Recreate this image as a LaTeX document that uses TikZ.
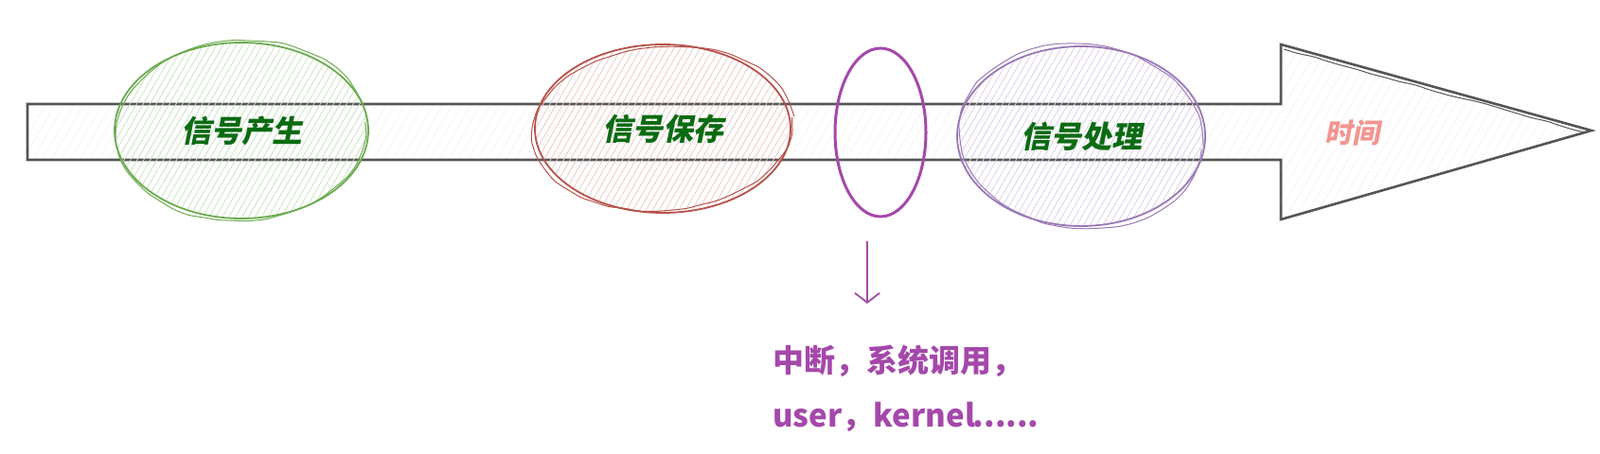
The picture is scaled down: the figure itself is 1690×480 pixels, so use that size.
\documentclass[tikz,border=0pt]{standalone}
\usepackage{fontspec}
\newfontfamily\cjk{Noto Sans CJK SC}
\newfontfamily\cjkslant{Noto Sans CJK SC}[FakeSlant=0.2]
\usetikzlibrary{shapes.geometric}
\usetikzlibrary{patterns.meta}
\usetikzlibrary{arrows.meta}
\usetikzlibrary{decorations.pathmorphing}

\definecolor{shaftgray}{HTML}{555555}
\definecolor{labelgreen}{HTML}{0B6B12}
\definecolor{gengreen}{HTML}{6AAB4F}
\definecolor{savered}{HTML}{B5524A}
\definecolor{handlepurple}{HTML}{9A78B6}
\definecolor{trappurple}{HTML}{A448AA}
\definecolor{timepink}{HTML}{F49490}

\begin{document}
\begin{tikzpicture}[x=0.5pt,y=-0.5pt]
    \tikzset{stage/.style = {shape=ellipse,draw,line width=0.9pt,inner sep=0pt,
        font=\cjkslant\bfseries\fontsize{16}{16}\selectfont,text=labelgreen}}
    \tikzset{hatch/.style = {pattern={Lines[angle=60,distance=3pt,line width=0.4pt]}}}
    \tikzset{sketch/.style = {line width=0.5pt,decorate,
        decoration={random steps,segment length=8pt,amplitude=0.5pt},rounded corners=2pt}}
    \tikzset{shaft/.style = {draw=shaftgray,line width=1.3pt,line join=miter,
        pattern={Lines[angle=60,distance=4pt,line width=0.3pt]},pattern color=gray!12}}
    \tikzset{callout/.style = {draw=trappurple,line width=0.9pt,-{Straight Barb[length=5pt,width=13pt]}}}
    \useasboundingbox (0,0) rectangle (1690,480);

    % time arrow
    \draw[shaft] (29,110) -- (1353,110) -- (1353,47) -- (1681,138) -- (1353,232)
        -- (1353,169) -- (29,169) -- cycle;
    \draw[sketch,shaftgray] (1356,52) -- (1675,140);
    \node[font=\cjkslant\bfseries\fontsize{14.5}{14.5}\selectfont,text=timepink] (time) at (1428,140) {时间};

    % stages
    \node[stage,draw=gengreen,hatch,pattern color=gengreen!35,
        minimum width=134pt,minimum height=93pt] (gen) at (255,138) {信号产生};
    \draw[sketch,gengreen] (gen.center) ellipse [x radius=131,y radius=95,rotate=4];

    \node[stage,draw=savered,hatch,pattern color=savered!30,
        minimum width=135pt,minimum height=89pt] (save) at (700,136) {信号保存};
    \draw[sketch,savered] (save.center) ellipse [x radius=137,y radius=86,rotate=5];

    \node[shape=ellipse,draw=trappurple,line width=1.5pt,
        minimum width=48pt,minimum height=89pt] (trap) at (930,140) {};

    \node[stage,draw=handlepurple,hatch,pattern color=handlepurple!35,
        minimum width=131pt,minimum height=95pt] (handle) at (1142,144) {信号处理};
    \draw[sketch,handlepurple] (handle.center) ellipse [x radius=128,y radius=97,rotate=-6];

    % note
    \coordinate (arrowtop) at (916,255);
    \coordinate (arrowtip) at (916,321);
    \draw[callout] (arrowtop) -- (arrowtip);
    \node[anchor=north west,align=left,inner sep=0pt,text=trappurple,
        font=\cjk\bfseries\fontsize{16.5}{29}\selectfont] (note) at (816,364)
        {中断，系统调用，\\user，kernel\kern-1pt......};
\end{tikzpicture}
\end{document}
